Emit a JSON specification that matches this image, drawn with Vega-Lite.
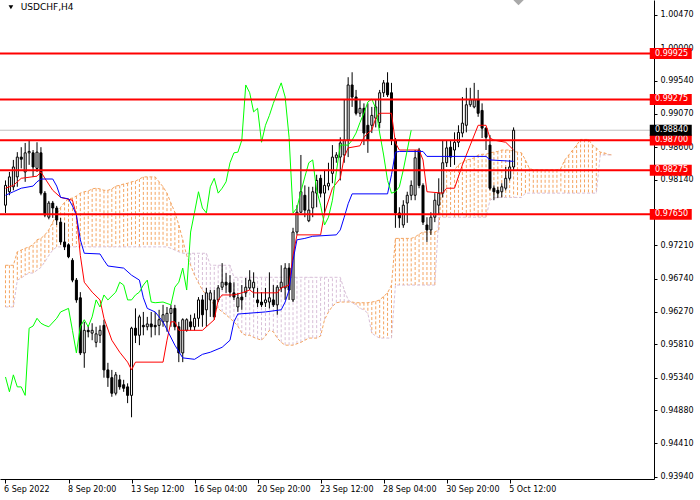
{
  "$schema": "https://vega.github.io/schema/vega-lite/v6.json",
  "width": 654,
  "height": 479,
  "autosize": {"type": "none"},
  "padding": {"left": 0, "top": 0, "right": 46, "bottom": 21},
  "background": "white",
  "config": {
    "view": {"stroke": null},
    "font": "DejaVu Sans",
    "axis": {"labelOverlap": false, "labelFlush": false, "labelBound": false, "grid": false, "tickColor": "black", "domainColor": "black", "labelColor": "black", "labelFont": "DejaVu Sans", "labelFontSize": 8, "title": null}
  },
  "datasets": {
    "bars": [
      {"i":0,"o":0.9778,"h":0.9813,"l":0.9767,"c":0.9806},
      {"i":1,"o":0.9797,"h":0.9825,"l":0.9792,"c":0.9818},
      {"i":2,"o":0.9804,"h":0.9842,"l":0.9799,"c":0.9832},
      {"i":3,"o":0.9818,"h":0.9853,"l":0.9804,"c":0.9846},
      {"i":4,"o":0.9846,"h":0.9860,"l":0.9830,"c":0.9843},
      {"i":5,"o":0.9825,"h":0.9866,"l":0.9811,"c":0.9852},
      {"i":6,"o":0.9852,"h":0.9870,"l":0.9835,"c":0.9854},
      {"i":7,"o":0.9852,"h":0.9856,"l":0.9818,"c":0.9832},
      {"i":8,"o":0.9830,"h":0.9867,"l":0.9825,"c":0.9853},
      {"i":9,"o":0.9852,"h":0.9860,"l":0.9792,"c":0.9795},
      {"i":10,"o":0.9795,"h":0.9798,"l":0.9761,"c":0.9764},
      {"i":11,"o":0.9761,"h":0.9784,"l":0.9758,"c":0.9781},
      {"i":12,"o":0.9781,"h":0.9784,"l":0.9760,"c":0.9774},
      {"i":13,"o":0.9774,"h":0.9777,"l":0.9750,"c":0.9757},
      {"i":14,"o":0.9754,"h":0.9760,"l":0.9722,"c":0.9726},
      {"i":15,"o":0.9726,"h":0.9753,"l":0.97145,"c":0.9719},
      {"i":16,"o":0.9722,"h":0.9724,"l":0.9703,"c":0.9705},
      {"i":17,"o":0.9700,"h":0.9703,"l":0.9669,"c":0.9672},
      {"i":18,"o":0.9672,"h":0.9675,"l":0.9640,"c":0.9644},
      {"i":19,"o":0.9647,"h":0.9655,"l":0.9566,"c":0.9569},
      {"i":20,"o":0.9569,"h":0.9613,"l":0.9548,"c":0.9601},
      {"i":21,"o":0.9601,"h":0.9608,"l":0.9591,"c":0.9599},
      {"i":22,"o":0.9597,"h":0.9611,"l":0.9587,"c":0.9601},
      {"i":23,"o":0.9584,"h":0.9606,"l":0.9577,"c":0.9596},
      {"i":24,"o":0.9594,"h":0.9608,"l":0.9583,"c":0.9601},
      {"i":25,"o":0.9608,"h":0.9616,"l":0.9534,"c":0.9545},
      {"i":26,"o":0.9545,"h":0.9555,"l":0.9521,"c":0.9534},
      {"i":27,"o":0.9534,"h":0.9545,"l":0.9507,"c":0.9512},
      {"i":28,"o":0.9512,"h":0.9542,"l":0.9509,"c":0.9538},
      {"i":29,"o":0.9531,"h":0.9538,"l":0.9517,"c":0.9521},
      {"i":30,"o":0.9524,"h":0.9531,"l":0.9514,"c":0.9519},
      {"i":31,"o":0.9521,"h":0.9526,"l":0.9498,"c":0.9509},
      {"i":32,"o":0.9509,"h":0.9606,"l":0.9478,"c":0.9604},
      {"i":33,"o":0.9604,"h":0.9632,"l":0.9583,"c":0.9594},
      {"i":34,"o":0.9594,"h":0.9623,"l":0.9580,"c":0.9620},
      {"i":35,"o":0.9608,"h":0.9627,"l":0.9594,"c":0.9606},
      {"i":36,"o":0.9606,"h":0.9620,"l":0.9601,"c":0.9610},
      {"i":37,"o":0.9610,"h":0.9627,"l":0.9591,"c":0.9606},
      {"i":38,"o":0.9608,"h":0.9627,"l":0.9594,"c":0.9606},
      {"i":39,"o":0.9608,"h":0.9630,"l":0.9594,"c":0.9616},
      {"i":40,"o":0.9613,"h":0.9637,"l":0.9606,"c":0.9623},
      {"i":41,"o":0.9613,"h":0.9634,"l":0.9599,"c":0.9625},
      {"i":42,"o":0.9625,"h":0.9637,"l":0.9606,"c":0.9632},
      {"i":43,"o":0.9632,"h":0.9637,"l":0.9601,"c":0.9606},
      {"i":44,"o":0.9606,"h":0.9613,"l":0.9556,"c":0.9569},
      {"i":45,"o":0.9569,"h":0.9618,"l":0.9556,"c":0.9616},
      {"i":46,"o":0.9601,"h":0.9618,"l":0.9599,"c":0.9616},
      {"i":47,"o":0.9613,"h":0.9623,"l":0.9601,"c":0.9606},
      {"i":48,"o":0.9606,"h":0.9625,"l":0.9601,"c":0.9618},
      {"i":49,"o":0.9618,"h":0.9648,"l":0.9606,"c":0.9644},
      {"i":50,"o":0.9644,"h":0.9651,"l":0.9606,"c":0.9623},
      {"i":51,"o":0.9630,"h":0.9661,"l":0.9606,"c":0.9654},
      {"i":52,"o":0.9644,"h":0.9658,"l":0.9620,"c":0.9654},
      {"i":53,"o":0.9644,"h":0.9658,"l":0.9616,"c":0.9620},
      {"i":54,"o":0.9644,"h":0.9665,"l":0.9641,"c":0.9661},
      {"i":55,"o":0.9662,"h":0.9696,"l":0.9658,"c":0.9669},
      {"i":56,"o":0.9669,"h":0.9682,"l":0.9654,"c":0.9665},
      {"i":57,"o":0.9668,"h":0.9679,"l":0.9648,"c":0.9655},
      {"i":58,"o":0.9654,"h":0.9669,"l":0.9644,"c":0.9648},
      {"i":59,"o":0.9634,"h":0.9654,"l":0.9627,"c":0.9647},
      {"i":60,"o":0.9648,"h":0.9665,"l":0.9630,"c":0.9644},
      {"i":61,"o":0.9654,"h":0.9675,"l":0.9648,"c":0.9662},
      {"i":62,"o":0.9661,"h":0.9686,"l":0.9658,"c":0.9672},
      {"i":63,"o":0.9661,"h":0.9683,"l":0.9647,"c":0.9669},
      {"i":64,"o":0.9644,"h":0.9661,"l":0.9634,"c":0.9640},
      {"i":65,"o":0.9641,"h":0.9655,"l":0.9634,"c":0.9637},
      {"i":66,"o":0.9640,"h":0.9661,"l":0.9634,"c":0.9644},
      {"i":67,"o":0.9641,"h":0.9683,"l":0.9632,"c":0.9647},
      {"i":68,"o":0.9644,"h":0.9665,"l":0.9634,"c":0.9637},
      {"i":69,"o":0.9637,"h":0.9665,"l":0.9623,"c":0.9662},
      {"i":70,"o":0.9661,"h":0.9693,"l":0.9655,"c":0.9669},
      {"i":71,"o":0.9661,"h":0.9696,"l":0.9644,"c":0.9689},
      {"i":72,"o":0.9689,"h":0.9696,"l":0.9644,"c":0.9658},
      {"i":73,"o":0.9644,"h":0.9746,"l":0.9641,"c":0.9740},
      {"i":74,"o":0.9740,"h":0.9778,"l":0.9736,"c":0.9768},
      {"i":75,"o":0.9768,"h":0.9849,"l":0.9767,"c":0.9797},
      {"i":76,"o":0.9792,"h":0.9806,"l":0.9761,"c":0.9771},
      {"i":77,"o":0.9756,"h":0.9804,"l":0.9754,"c":0.9771},
      {"i":78,"o":0.9774,"h":0.9804,"l":0.9761,"c":0.9797},
      {"i":79,"o":0.9795,"h":0.9821,"l":0.9775,"c":0.9813},
      {"i":80,"o":0.9816,"h":0.9821,"l":0.9789,"c":0.9795},
      {"i":81,"o":0.9795,"h":0.9828,"l":0.9767,"c":0.9806},
      {"i":82,"o":0.9805,"h":0.9838,"l":0.9799,"c":0.9809},
      {"i":83,"o":0.9823,"h":0.9863,"l":0.9809,"c":0.9846},
      {"i":84,"o":0.9845,"h":0.9853,"l":0.9838,"c":0.9849},
      {"i":85,"o":0.9846,"h":0.9874,"l":0.9813,"c":0.9866},
      {"i":86,"o":0.9849,"h":0.9927,"l":0.9838,"c":0.9870},
      {"i":87,"o":0.9870,"h":0.9959,"l":0.9846,"c":0.9948},
      {"i":88,"o":0.9948,"h":0.9966,"l":0.9917,"c":0.9931},
      {"i":89,"o":0.9931,"h":0.9941,"l":0.9905,"c":0.9908},
      {"i":90,"o":0.9908,"h":0.9927,"l":0.9903,"c":0.9915},
      {"i":91,"o":0.9915,"h":0.9922,"l":0.9863,"c":0.9880},
      {"i":92,"o":0.9891,"h":0.9922,"l":0.9852,"c":0.9870},
      {"i":93,"o":0.9891,"h":0.9917,"l":0.9880,"c":0.9905},
      {"i":94,"o":0.9901,"h":0.9927,"l":0.9888,"c":0.9917},
      {"i":95,"o":0.9895,"h":0.9941,"l":0.9887,"c":0.9937},
      {"i":96,"o":0.9937,"h":0.9955,"l":0.9931,"c":0.9951},
      {"i":97,"o":0.9951,"h":0.9966,"l":0.9931,"c":0.9934},
      {"i":98,"o":0.9937,"h":0.9951,"l":0.9863,"c":0.9870},
      {"i":99,"o":0.9870,"h":0.9873,"l":0.9746,"c":0.9767},
      {"i":100,"o":0.9767,"h":0.9775,"l":0.9746,"c":0.9760},
      {"i":101,"o":0.9750,"h":0.9785,"l":0.9746,"c":0.9778},
      {"i":102,"o":0.9781,"h":0.9797,"l":0.9753,"c":0.9792},
      {"i":103,"o":0.9792,"h":0.9813,"l":0.9785,"c":0.9806},
      {"i":104,"o":0.9792,"h":0.9856,"l":0.9785,"c":0.9845},
      {"i":105,"o":0.9856,"h":0.9859,"l":0.9802,"c":0.9806},
      {"i":106,"o":0.9806,"h":0.9809,"l":0.9750,"c":0.9754},
      {"i":107,"o":0.9750,"h":0.9761,"l":0.9726,"c":0.9743},
      {"i":108,"o":0.9743,"h":0.9768,"l":0.9736,"c":0.9761},
      {"i":109,"o":0.9761,"h":0.9795,"l":0.9754,"c":0.9785},
      {"i":110,"o":0.9778,"h":0.9816,"l":0.9764,"c":0.9795},
      {"i":111,"o":0.9795,"h":0.9870,"l":0.9789,"c":0.9838},
      {"i":112,"o":0.9838,"h":0.9870,"l":0.9832,"c":0.9859},
      {"i":113,"o":0.9860,"h":0.9870,"l":0.9832,"c":0.9846},
      {"i":114,"o":0.9856,"h":0.9881,"l":0.9835,"c":0.9867},
      {"i":115,"o":0.9867,"h":0.9891,"l":0.9860,"c":0.9881},
      {"i":116,"o":0.9880,"h":0.9931,"l":0.9874,"c":0.9894},
      {"i":117,"o":0.9891,"h":0.9944,"l":0.9881,"c":0.9920},
      {"i":118,"o":0.9920,"h":0.9944,"l":0.9917,"c":0.9927},
      {"i":119,"o":0.9917,"h":0.9951,"l":0.9915,"c":0.9927},
      {"i":120,"o":0.9927,"h":0.9941,"l":0.9903,"c":0.9908},
      {"i":121,"o":0.9912,"h":0.9922,"l":0.9873,"c":0.9887},
      {"i":122,"o":0.9887,"h":0.9888,"l":0.9856,"c":0.9874},
      {"i":123,"o":0.9863,"h":0.9877,"l":0.9799,"c":0.9802},
      {"i":124,"o":0.9802,"h":0.9806,"l":0.9785,"c":0.9797},
      {"i":125,"o":0.9799,"h":0.9804,"l":0.9788,"c":0.9795},
      {"i":126,"o":0.9797,"h":0.9809,"l":0.9789,"c":0.9804},
      {"i":127,"o":0.9802,"h":0.9832,"l":0.9799,"c":0.9816},
      {"i":128,"o":0.9816,"h":0.9842,"l":0.9813,"c":0.9832},
      {"i":129,"o":0.9832,"h":0.9888,"l":0.9828,"c":0.9884}
    ],
    "tenkan": [
      {"i":0,"v":0.9802},{"i":2,"v":0.9806},{"i":4,"v":0.9816},{"i":8,"v":0.9819},{"i":9,"v":0.9825},
      {"i":10,"v":0.9816},{"i":12,"v":0.9799},{"i":14,"v":0.9789},{"i":17,"v":0.9785},{"i":18,"v":0.9764},
      {"i":19,"v":0.9707},{"i":20,"v":0.9669},{"i":22,"v":0.9655},{"i":24,"v":0.9644},{"i":25,"v":0.9618},
      {"i":27,"v":0.9587},{"i":29,"v":0.9570},{"i":31,"v":0.9556},{"i":32,"v":0.9545},{"i":33,"v":0.9556},
      {"i":40,"v":0.9556},{"i":41,"v":0.9587},{"i":42,"v":0.9613},{"i":43,"v":0.9613},{"i":44,"v":0.9601},
      {"i":50,"v":0.9601},{"i":53,"v":0.9616},{"i":54,"v":0.9644},{"i":55,"v":0.9651},{"i":58,"v":0.9651},
      {"i":60,"v":0.9654},{"i":62,"v":0.9658},{"i":63,"v":0.9654},{"i":69,"v":0.9654},{"i":70,"v":0.9661},
      {"i":72,"v":0.9665},{"i":73,"v":0.9707},{"i":74,"v":0.9736},{"i":80,"v":0.9736},{"i":81,"v":0.9767},
      {"i":83,"v":0.9802},{"i":85,"v":0.9816},{"i":86,"v":0.9846},{"i":87,"v":0.9859},{"i":90,"v":0.9862},
      {"i":91,"v":0.9874},{"i":92,"v":0.9880},{"i":93,"v":0.9884},{"i":94,"v":0.9901},{"i":95,"v":0.9908},
      {"i":98,"v":0.9908},{"i":99,"v":0.9866},{"i":100,"v":0.9856},{"i":105,"v":0.9856},{"i":106,"v":0.9842},
      {"i":107,"v":0.9797},{"i":111,"v":0.9795},{"i":112,"v":0.9802},{"i":114,"v":0.9802},{"i":116,"v":0.9835},
      {"i":118,"v":0.9863},{"i":120,"v":0.9891},{"i":122,"v":0.9891},{"i":123,"v":0.9873},{"i":124,"v":0.9870},
      {"i":127,"v":0.9867},{"i":129,"v":0.9856}
    ],
    "kijun": [
      {"i":0,"v":0.9792},{"i":2,"v":0.9797},{"i":4,"v":0.9802},{"i":7,"v":0.9805},{"i":8,"v":0.9811},
      {"i":9,"v":0.9815},{"i":12,"v":0.9815},{"i":13,"v":0.9805},{"i":14,"v":0.9789},{"i":16,"v":0.9787},
      {"i":17,"v":0.9777},{"i":18,"v":0.9764},{"i":19,"v":0.9729},{"i":20,"v":0.9710},{"i":24,"v":0.9709},
      {"i":25,"v":0.9700},{"i":26,"v":0.9692},{"i":30,"v":0.9689},{"i":32,"v":0.9679},{"i":34,"v":0.9672},
      {"i":35,"v":0.9647},{"i":36,"v":0.9632},{"i":38,"v":0.9627},{"i":40,"v":0.9613},{"i":43,"v":0.9580},
      {"i":45,"v":0.9562},{"i":48,"v":0.9560},{"i":50,"v":0.9567},{"i":52,"v":0.9570},{"i":55,"v":0.9577},
      {"i":57,"v":0.9587},{"i":58,"v":0.9613},{"i":59,"v":0.9624},{"i":66,"v":0.9627},{"i":70,"v":0.9630},
      {"i":71,"v":0.9641},{"i":72,"v":0.9658},{"i":73,"v":0.9700},{"i":74,"v":0.9729},{"i":76,"v":0.9731},
      {"i":78,"v":0.9734},{"i":84,"v":0.9736},{"i":85,"v":0.9743},{"i":86,"v":0.9761},{"i":87,"v":0.9780},
      {"i":88,"v":0.9794},{"i":97,"v":0.9794},{"i":98,"v":0.9821},{"i":99,"v":0.9853},{"i":100,"v":0.9854},
      {"i":106,"v":0.9854},{"i":107,"v":0.9847},{"i":122,"v":0.9847},{"i":123,"v":0.9842},{"i":129,"v":0.9840}
    ],
    "chikou": [
      {"i":0,"v":0.9535},{"i":1,"v":0.9514},{"i":2,"v":0.9538},{"i":3,"v":0.9521},{"i":4,"v":0.9521},
      {"i":5,"v":0.9509},{"i":6,"v":0.9604},{"i":7,"v":0.9607},{"i":8,"v":0.9618},{"i":9,"v":0.9611},
      {"i":10,"v":0.9608},{"i":11,"v":0.9606},{"i":13,"v":0.9618},{"i":14,"v":0.9627},{"i":16,"v":0.9632},
      {"i":17,"v":0.9601},{"i":18,"v":0.9569},{"i":19,"v":0.9606},{"i":20,"v":0.9616},{"i":21,"v":0.9606},
      {"i":22,"v":0.9620},{"i":23,"v":0.9644},{"i":24,"v":0.9634},{"i":25,"v":0.9651},{"i":26,"v":0.9644},
      {"i":28,"v":0.9655},{"i":29,"v":0.9669},{"i":30,"v":0.9665},{"i":31,"v":0.9644},{"i":32,"v":0.9644},
      {"i":33,"v":0.9651},{"i":34,"v":0.9655},{"i":35,"v":0.9665},{"i":36,"v":0.9672},{"i":37,"v":0.9641},
      {"i":38,"v":0.9640},{"i":40,"v":0.9641},{"i":42,"v":0.9637},{"i":43,"v":0.9662},{"i":44,"v":0.9669},
      {"i":45,"v":0.9689},{"i":46,"v":0.9658},{"i":47,"v":0.9740},{"i":48,"v":0.9768},{"i":49,"v":0.9797},
      {"i":50,"v":0.9774},{"i":51,"v":0.9767},{"i":52,"v":0.9804},{"i":53,"v":0.9816},{"i":54,"v":0.9795},
      {"i":55,"v":0.9802},{"i":56,"v":0.9811},{"i":57,"v":0.9838},{"i":58,"v":0.9852},{"i":59,"v":0.9853},
      {"i":60,"v":0.9870},{"i":61,"v":0.9948},{"i":62,"v":0.9937},{"i":63,"v":0.9910},{"i":64,"v":0.9915},
      {"i":65,"v":0.9867},{"i":66,"v":0.9891},{"i":67,"v":0.9905},{"i":68,"v":0.9922},{"i":69,"v":0.9937},
      {"i":70,"v":0.9951},{"i":71,"v":0.9931},{"i":72,"v":0.9874},{"i":73,"v":0.9767},{"i":74,"v":0.9774},
      {"i":75,"v":0.9797},{"i":76,"v":0.9818},{"i":77,"v":0.9838},{"i":78,"v":0.9842},{"i":79,"v":0.9799},
      {"i":80,"v":0.9778},{"i":81,"v":0.9750},{"i":82,"v":0.9761},{"i":83,"v":0.9785},{"i":84,"v":0.9825},
      {"i":85,"v":0.9863},{"i":86,"v":0.9863},{"i":87,"v":0.9863},{"i":88,"v":0.9870},{"i":89,"v":0.9880},
      {"i":90,"v":0.9895},{"i":91,"v":0.9908},{"i":92,"v":0.9924},{"i":93,"v":0.9928},{"i":94,"v":0.9915},
      {"i":95,"v":0.9880},{"i":96,"v":0.9849},{"i":97,"v":0.9813},{"i":98,"v":0.9795},{"i":99,"v":0.9797},
      {"i":100,"v":0.9804},{"i":101,"v":0.9828},{"i":102,"v":0.9856},{"i":103,"v":0.9884}
    ],
    "cloud": [
      {"i":0,"a":0.9693,"b":0.9634},{"i":1,"a":0.9693,"b":0.9634},{"i":2,"a":0.9693,"b":0.9634},
      {"i":3,"a":0.9712,"b":0.9672},{"i":4,"a":0.97145,"b":0.9675},{"i":5,"a":0.9717,"b":0.9679},
      {"i":6,"a":0.9719,"b":0.9682},{"i":7,"a":0.9722,"b":0.9682},{"i":8,"a":0.9729,"b":0.9686},
      {"i":9,"a":0.9731,"b":0.9690},{"i":10,"a":0.9736,"b":0.9698},{"i":11,"a":0.9743,"b":0.9707},
      {"i":12,"a":0.9754,"b":0.97145},{"i":13,"a":0.9765,"b":0.9719},{"i":14,"a":0.9775,"b":0.9719},
      {"i":15,"a":0.9782,"b":0.9719},{"i":16,"a":0.9787,"b":0.9719},{"i":17,"a":0.9788,"b":0.9719},
      {"i":18,"a":0.9791,"b":0.9719},{"i":19,"a":0.9795,"b":0.9719},{"i":20,"a":0.9797,"b":0.9719},
      {"i":21,"a":0.9798,"b":0.9719},{"i":22,"a":0.9801,"b":0.9719},{"i":23,"a":0.9802,"b":0.9719},
      {"i":24,"a":0.9801,"b":0.9719},{"i":25,"a":0.9799,"b":0.9719},{"i":26,"a":0.9799,"b":0.9719},
      {"i":27,"a":0.9801,"b":0.9719},{"i":28,"a":0.9805,"b":0.9719},{"i":29,"a":0.9806,"b":0.9719},
      {"i":30,"a":0.9808,"b":0.9719},{"i":31,"a":0.9809,"b":0.9719},{"i":32,"a":0.9811,"b":0.9719},
      {"i":33,"a":0.9812,"b":0.9719},{"i":34,"a":0.9815,"b":0.9719},{"i":35,"a":0.9818,"b":0.9719},
      {"i":36,"a":0.9818,"b":0.9719},{"i":37,"a":0.9818,"b":0.9719},{"i":38,"a":0.9818,"b":0.9719},
      {"i":39,"a":0.9811,"b":0.9719},{"i":40,"a":0.9804,"b":0.9719},{"i":41,"a":0.9795,"b":0.9719},
      {"i":42,"a":0.9781,"b":0.9717},{"i":43,"a":0.9768,"b":0.97145},{"i":44,"a":0.9750,"b":0.9712},
      {"i":45,"a":0.9729,"b":0.9710},{"i":46,"a":0.9707,"b":0.9710},{"i":47,"a":0.9693,"b":0.9710},
      {"i":48,"a":0.9679,"b":0.9710},{"i":49,"a":0.9668,"b":0.9710},{"i":50,"a":0.9658,"b":0.9710},
      {"i":51,"a":0.9651,"b":0.9710},{"i":52,"a":0.9644,"b":0.9693},{"i":53,"a":0.9637,"b":0.9693},
      {"i":54,"a":0.9632,"b":0.9693},{"i":55,"a":0.9627,"b":0.9693},{"i":56,"a":0.9623,"b":0.9693},
      {"i":57,"a":0.9618,"b":0.9693},{"i":58,"a":0.9613,"b":0.9676},{"i":59,"a":0.9607,"b":0.9676},
      {"i":60,"a":0.9597,"b":0.9676},{"i":61,"a":0.9594,"b":0.9676},{"i":62,"a":0.9594,"b":0.9676},
      {"i":63,"a":0.9591,"b":0.9676},{"i":64,"a":0.9589,"b":0.9676},{"i":65,"a":0.9587,"b":0.9676},
      {"i":66,"a":0.9593,"b":0.9676},{"i":67,"a":0.9601,"b":0.9676},{"i":68,"a":0.9599,"b":0.9676},
      {"i":69,"a":0.9590,"b":0.9676},{"i":70,"a":0.9584,"b":0.9676},{"i":71,"a":0.9580,"b":0.9676},
      {"i":72,"a":0.9580,"b":0.9676},{"i":73,"a":0.9580,"b":0.9676},{"i":74,"a":0.9582,"b":0.9676},
      {"i":75,"a":0.9584,"b":0.9676},{"i":76,"a":0.9587,"b":0.9676},{"i":77,"a":0.9590,"b":0.9676},
      {"i":78,"a":0.9590,"b":0.9676},{"i":79,"a":0.9590,"b":0.9676},{"i":80,"a":0.9593,"b":0.9676},
      {"i":81,"a":0.9616,"b":0.9676},{"i":82,"a":0.9627,"b":0.9676},{"i":83,"a":0.9635,"b":0.9676},
      {"i":84,"a":0.9640,"b":0.9676},{"i":85,"a":0.9641,"b":0.9676},{"i":86,"a":0.9641,"b":0.9658},
      {"i":87,"a":0.9641,"b":0.9644},{"i":88,"a":0.9641,"b":0.9640},{"i":89,"a":0.9640,"b":0.9637},
      {"i":90,"a":0.9640,"b":0.9632},{"i":91,"a":0.9640,"b":0.9630},{"i":92,"a":0.9640,"b":0.9625},
      {"i":93,"a":0.9641,"b":0.9597},{"i":94,"a":0.9642,"b":0.9593},{"i":95,"a":0.9644,"b":0.9590},
      {"i":96,"a":0.9649,"b":0.9590},{"i":97,"a":0.9654,"b":0.9590},{"i":98,"a":0.9665,"b":0.9590},
      {"i":99,"a":0.9731,"b":0.9665},{"i":100,"a":0.9731,"b":0.9665},{"i":101,"a":0.9731,"b":0.9665},
      {"i":102,"a":0.9731,"b":0.9665},{"i":103,"a":0.9731,"b":0.9665},{"i":104,"a":0.9733,"b":0.9665},
      {"i":105,"a":0.9737,"b":0.9665},{"i":106,"a":0.9740,"b":0.9665},{"i":107,"a":0.9740,"b":0.9665},
      {"i":108,"a":0.9740,"b":0.9665},{"i":109,"a":0.9740,"b":0.9665},{"i":110,"a":0.9743,"b":0.9761},
      {"i":111,"a":0.9828,"b":0.9761},{"i":112,"a":0.9828,"b":0.9761},{"i":113,"a":0.9825,"b":0.9761},
      {"i":114,"a":0.9828,"b":0.9761},{"i":115,"a":0.9835,"b":0.9761},{"i":116,"a":0.9839,"b":0.9761},
      {"i":117,"a":0.9842,"b":0.9761},{"i":118,"a":0.9843,"b":0.9761},{"i":119,"a":0.9845,"b":0.9761},
      {"i":120,"a":0.9849,"b":0.9761},{"i":121,"a":0.9850,"b":0.9761},{"i":122,"a":0.9850,"b":0.9761},
      {"i":123,"a":0.9852,"b":0.9785},{"i":124,"a":0.9853,"b":0.9788},{"i":125,"a":0.9854,"b":0.9789},
      {"i":126,"a":0.9856,"b":0.9789},{"i":127,"a":0.9856,"b":0.9789},{"i":128,"a":0.9856,"b":0.9789},
      {"i":129,"a":0.9854,"b":0.9789},{"i":130,"a":0.9853,"b":0.9789},{"i":131,"a":0.9852,"b":0.9789},
      {"i":132,"a":0.9842,"b":0.9795},{"i":133,"a":0.9830,"b":0.9795},{"i":134,"a":0.9828,"b":0.9795},
      {"i":135,"a":0.9828,"b":0.9795},{"i":136,"a":0.9828,"b":0.9795},{"i":137,"a":0.9828,"b":0.9795},
      {"i":138,"a":0.9828,"b":0.9795},{"i":139,"a":0.9828,"b":0.9795},{"i":140,"a":0.9828,"b":0.9795},
      {"i":141,"a":0.9830,"b":0.9795},{"i":142,"a":0.9842,"b":0.9795},{"i":143,"a":0.9849,"b":0.9795},
      {"i":144,"a":0.9856,"b":0.9795},{"i":145,"a":0.9863,"b":0.9795},{"i":146,"a":0.9871,"b":0.9795},
      {"i":147,"a":0.9871,"b":0.9795},{"i":148,"a":0.9871,"b":0.9795},{"i":149,"a":0.9863,"b":0.9795},
      {"i":150,"a":0.9859,"b":0.9795},{"i":151,"a":0.9853,"b":0.9849},{"i":152,"a":0.9852,"b":0.9849},
      {"i":153,"a":0.9850,"b":0.9849},{"i":154,"a":0.9849,"b":0.9849}
    ],
    "levels": [{"p":0.99925},{"p":0.99275},{"p":0.98700},{"p":0.98275},{"p":0.97650}],
    "last": [{"p":0.98840}],
    "caption": [{"t":"USDCHF,H4"}]
  },
  "layer": [
    {
      "data": {"name": "cloud"},
      "mark": {"type": "rule", "strokeDash": [3, 2], "strokeWidth": 1},
      "encoding": {
        "x": {
          "field": "i", "type": "quantitative",
          "scale": {"domain": [-0.125, 163.375], "nice": false, "zero": false},
          "axis": {
            "values": [0, 16, 32, 48, 64, 80, 96, 112, 128],
            "tickCount": 20,
            "labelExpr": "datum.value == 0 ? '6 Sep 2022' : datum.value == 16 ? '8 Sep 20:00' : datum.value == 32 ? '13 Sep 12:00' : datum.value == 48 ? '16 Sep 04:00' : datum.value == 64 ? '20 Sep 20:00' : datum.value == 80 ? '23 Sep 12:00' : datum.value == 96 ? '28 Sep 04:00' : datum.value == 112 ? '30 Sep 20:00' : '5 Oct 12:00'",
            "title": null, "grid": false, "tickSize": 4, "tickColor": "black",
            "domainColor": "black", "labelColor": "black", "labelFont": "DejaVu Sans",
            "labelFontSize": 8, "labelAlign": "left",
            "labelOffset": {"condition": {"test": "datum.value == 0", "value": -2}, "value": -1},
            "labelPadding": 2,
            "labelFlush": {"expr": "false"}, "labelOverlap": {"expr": "false"}, "labelBound": false
          }
        },
        "y": {
          "field": "a", "type": "quantitative",
          "scale": {"domain": [0.93907, 1.00682], "nice": false, "zero": false},
          "axis": {
            "orient": "right",
            "values": [0.9394, 0.9441, 0.9488, 0.9534, 0.9581, 0.9627, 0.9674, 0.9721, 0.9814, 0.986, 0.9907, 0.9954, 1.0, 1.0047],
            "tickCount": 30,
            "format": ".5f", "title": null, "grid": false, "tickSize": 3, "labelPadding": 3,
            "tickColor": "black", "domainColor": "black", "labelColor": "black",
            "labelFont": "DejaVu Sans", "labelFontSize": 8,
            "labelFlush": {"expr": "false"}, "labelOverlap": {"expr": "false"}, "labelBound": false
          }
        },
        "y2": {"field": "b"},
        "color": {"condition": {"test": "datum.a >= datum.b", "value": "#F4A460"}, "value": "#D8BFD8"}
      }
    },
    {
      "data": {"name": "cloud"},
      "mark": {"type": "line", "color": "#F4A460", "strokeWidth": 1, "strokeDash": [3, 2]},
      "encoding": {
        "x": {"field": "i", "type": "quantitative", "scale": {"domain": [-0.125, 163.375], "nice": false, "zero": false}},
        "y": {"field": "a", "type": "quantitative", "scale": {"domain": [0.93907, 1.00682], "nice": false, "zero": false}}
      }
    },
    {
      "data": {"name": "cloud"},
      "mark": {"type": "line", "color": "#D8BFD8", "strokeWidth": 1, "strokeDash": [3, 2]},
      "encoding": {
        "x": {"field": "i", "type": "quantitative", "scale": {"domain": [-0.125, 163.375], "nice": false, "zero": false}},
        "y": {"field": "b", "type": "quantitative", "scale": {"domain": [0.93907, 1.00682], "nice": false, "zero": false}}
      }
    },
    {
      "data": {"name": "last"},
      "mark": {"type": "rule", "color": "#C0C0C0", "strokeWidth": 1},
      "encoding": {
        "y": {"field": "p", "type": "quantitative", "scale": {"domain": [0.93907, 1.00682], "nice": false, "zero": false}}
      }
    },
    {
      "data": {"name": "bars"},
      "mark": {"type": "rule", "color": "black", "strokeWidth": 1},
      "encoding": {
        "x": {"field": "i", "type": "quantitative", "scale": {"domain": [-0.125, 163.375], "nice": false, "zero": false}},
        "y": {"field": "l", "type": "quantitative", "scale": {"domain": [0.93907, 1.00682], "nice": false, "zero": false}},
        "y2": {"field": "h"}
      }
    },
    {
      "data": {"name": "bars"},
      "mark": {"type": "bar", "width": 2, "stroke": "black", "strokeWidth": 1},
      "encoding": {
        "x": {"field": "i", "type": "quantitative", "scale": {"domain": [-0.125, 163.375], "nice": false, "zero": false}},
        "y": {"field": "o", "type": "quantitative", "scale": {"domain": [0.93907, 1.00682], "nice": false, "zero": false}},
        "y2": {"field": "c"},
        "fill": {"condition": {"test": "datum.c > datum.o", "value": "white"}, "value": "black"}
      }
    },
    {
      "data": {"name": "tenkan"},
      "mark": {"type": "line", "color": "#FF0000", "strokeWidth": 1},
      "encoding": {
        "x": {"field": "i", "type": "quantitative", "scale": {"domain": [-0.125, 163.375], "nice": false, "zero": false}},
        "y": {"field": "v", "type": "quantitative", "scale": {"domain": [0.93907, 1.00682], "nice": false, "zero": false}}
      }
    },
    {
      "data": {"name": "kijun"},
      "mark": {"type": "line", "color": "#0000FF", "strokeWidth": 1},
      "encoding": {
        "x": {"field": "i", "type": "quantitative", "scale": {"domain": [-0.125, 163.375], "nice": false, "zero": false}},
        "y": {"field": "v", "type": "quantitative", "scale": {"domain": [0.93907, 1.00682], "nice": false, "zero": false}}
      }
    },
    {
      "data": {"name": "chikou"},
      "mark": {"type": "line", "color": "#00FF00", "strokeWidth": 1},
      "encoding": {
        "x": {"field": "i", "type": "quantitative", "scale": {"domain": [-0.125, 163.375], "nice": false, "zero": false}},
        "y": {"field": "v", "type": "quantitative", "scale": {"domain": [0.93907, 1.00682], "nice": false, "zero": false}}
      }
    },
    {
      "data": {"name": "levels"},
      "mark": {"type": "rule", "color": "#FF0000", "strokeWidth": 2},
      "encoding": {
        "y": {"field": "p", "type": "quantitative", "scale": {"domain": [0.93907, 1.00682], "nice": false, "zero": false}}
      }
    },
    {
      "data": {"name": "levels"},
      "mark": {"type": "point", "shape": "M-1,-0.26H1V0.26H-1Z", "size": 1764, "filled": true, "color": "#FF0000", "opacity": 1, "clip": false},
      "encoding": {
        "x": {"datum": 168.9, "type": "quantitative", "scale": {"domain": [-0.125, 163.375], "nice": false, "zero": false}},
        "y": {"field": "p", "type": "quantitative", "scale": {"domain": [0.93907, 1.00682], "nice": false, "zero": false}}
      }
    },
    {
      "data": {"name": "levels"},
      "mark": {"type": "text", "align": "left", "baseline": "middle", "color": "white", "font": "DejaVu Sans", "fontSize": 8, "clip": false},
      "encoding": {
        "x": {"datum": 164.9, "type": "quantitative", "scale": {"domain": [-0.125, 163.375], "nice": false, "zero": false}},
        "y": {"field": "p", "type": "quantitative", "scale": {"domain": [0.93907, 1.00682], "nice": false, "zero": false}},
        "text": {"field": "p", "format": ".5f"}
      }
    },
    {
      "data": {"name": "last"},
      "mark": {"type": "point", "shape": "M-1,-0.26H1V0.26H-1Z", "size": 1764, "filled": true, "color": "black", "opacity": 1, "clip": false},
      "encoding": {
        "x": {"datum": 168.9, "type": "quantitative", "scale": {"domain": [-0.125, 163.375], "nice": false, "zero": false}},
        "y": {"field": "p", "type": "quantitative", "scale": {"domain": [0.93907, 1.00682], "nice": false, "zero": false}}
      }
    },
    {
      "data": {"name": "last"},
      "mark": {"type": "text", "align": "left", "baseline": "middle", "color": "white", "font": "DejaVu Sans", "fontSize": 8, "clip": false},
      "encoding": {
        "x": {"datum": 164.9, "type": "quantitative", "scale": {"domain": [-0.125, 163.375], "nice": false, "zero": false}},
        "y": {"field": "p", "type": "quantitative", "scale": {"domain": [0.93907, 1.00682], "nice": false, "zero": false}},
        "text": {"field": "p", "format": ".5f"}
      }
    },
    {
      "data": {"name": "caption"},
      "mark": {"type": "point", "shape": "triangle-down", "size": 22, "filled": true, "color": "black", "opacity": 1},
      "encoding": {
        "x": {"datum": 1.375, "type": "quantitative", "scale": {"domain": [-0.125, 163.375], "nice": false, "zero": false}},
        "y": {"datum": 1.0058, "type": "quantitative", "scale": {"domain": [0.93907, 1.00682], "nice": false, "zero": false}}
      }
    },
    {
      "data": {"name": "caption"},
      "mark": {"type": "text", "align": "left", "baseline": "middle", "color": "black", "font": "DejaVu Sans", "fontSize": 9},
      "encoding": {
        "x": {"datum": 3.875, "type": "quantitative", "scale": {"domain": [-0.125, 163.375], "nice": false, "zero": false}},
        "y": {"datum": 1.0058, "type": "quantitative", "scale": {"domain": [0.93907, 1.00682], "nice": false, "zero": false}},
        "text": {"field": "t"}
      }
    },
    {
      "data": {"name": "caption"},
      "mark": {"type": "point", "shape": "diamond", "size": 110, "filled": true, "color": "#A9A9A9", "opacity": 1},
      "encoding": {
        "x": {"datum": 130.25, "type": "quantitative", "scale": {"domain": [-0.125, 163.375], "nice": false, "zero": false}},
        "y": {"datum": 1.00682, "type": "quantitative", "scale": {"domain": [0.93907, 1.00682], "nice": false, "zero": false}}
      }
    }
  ]
}
